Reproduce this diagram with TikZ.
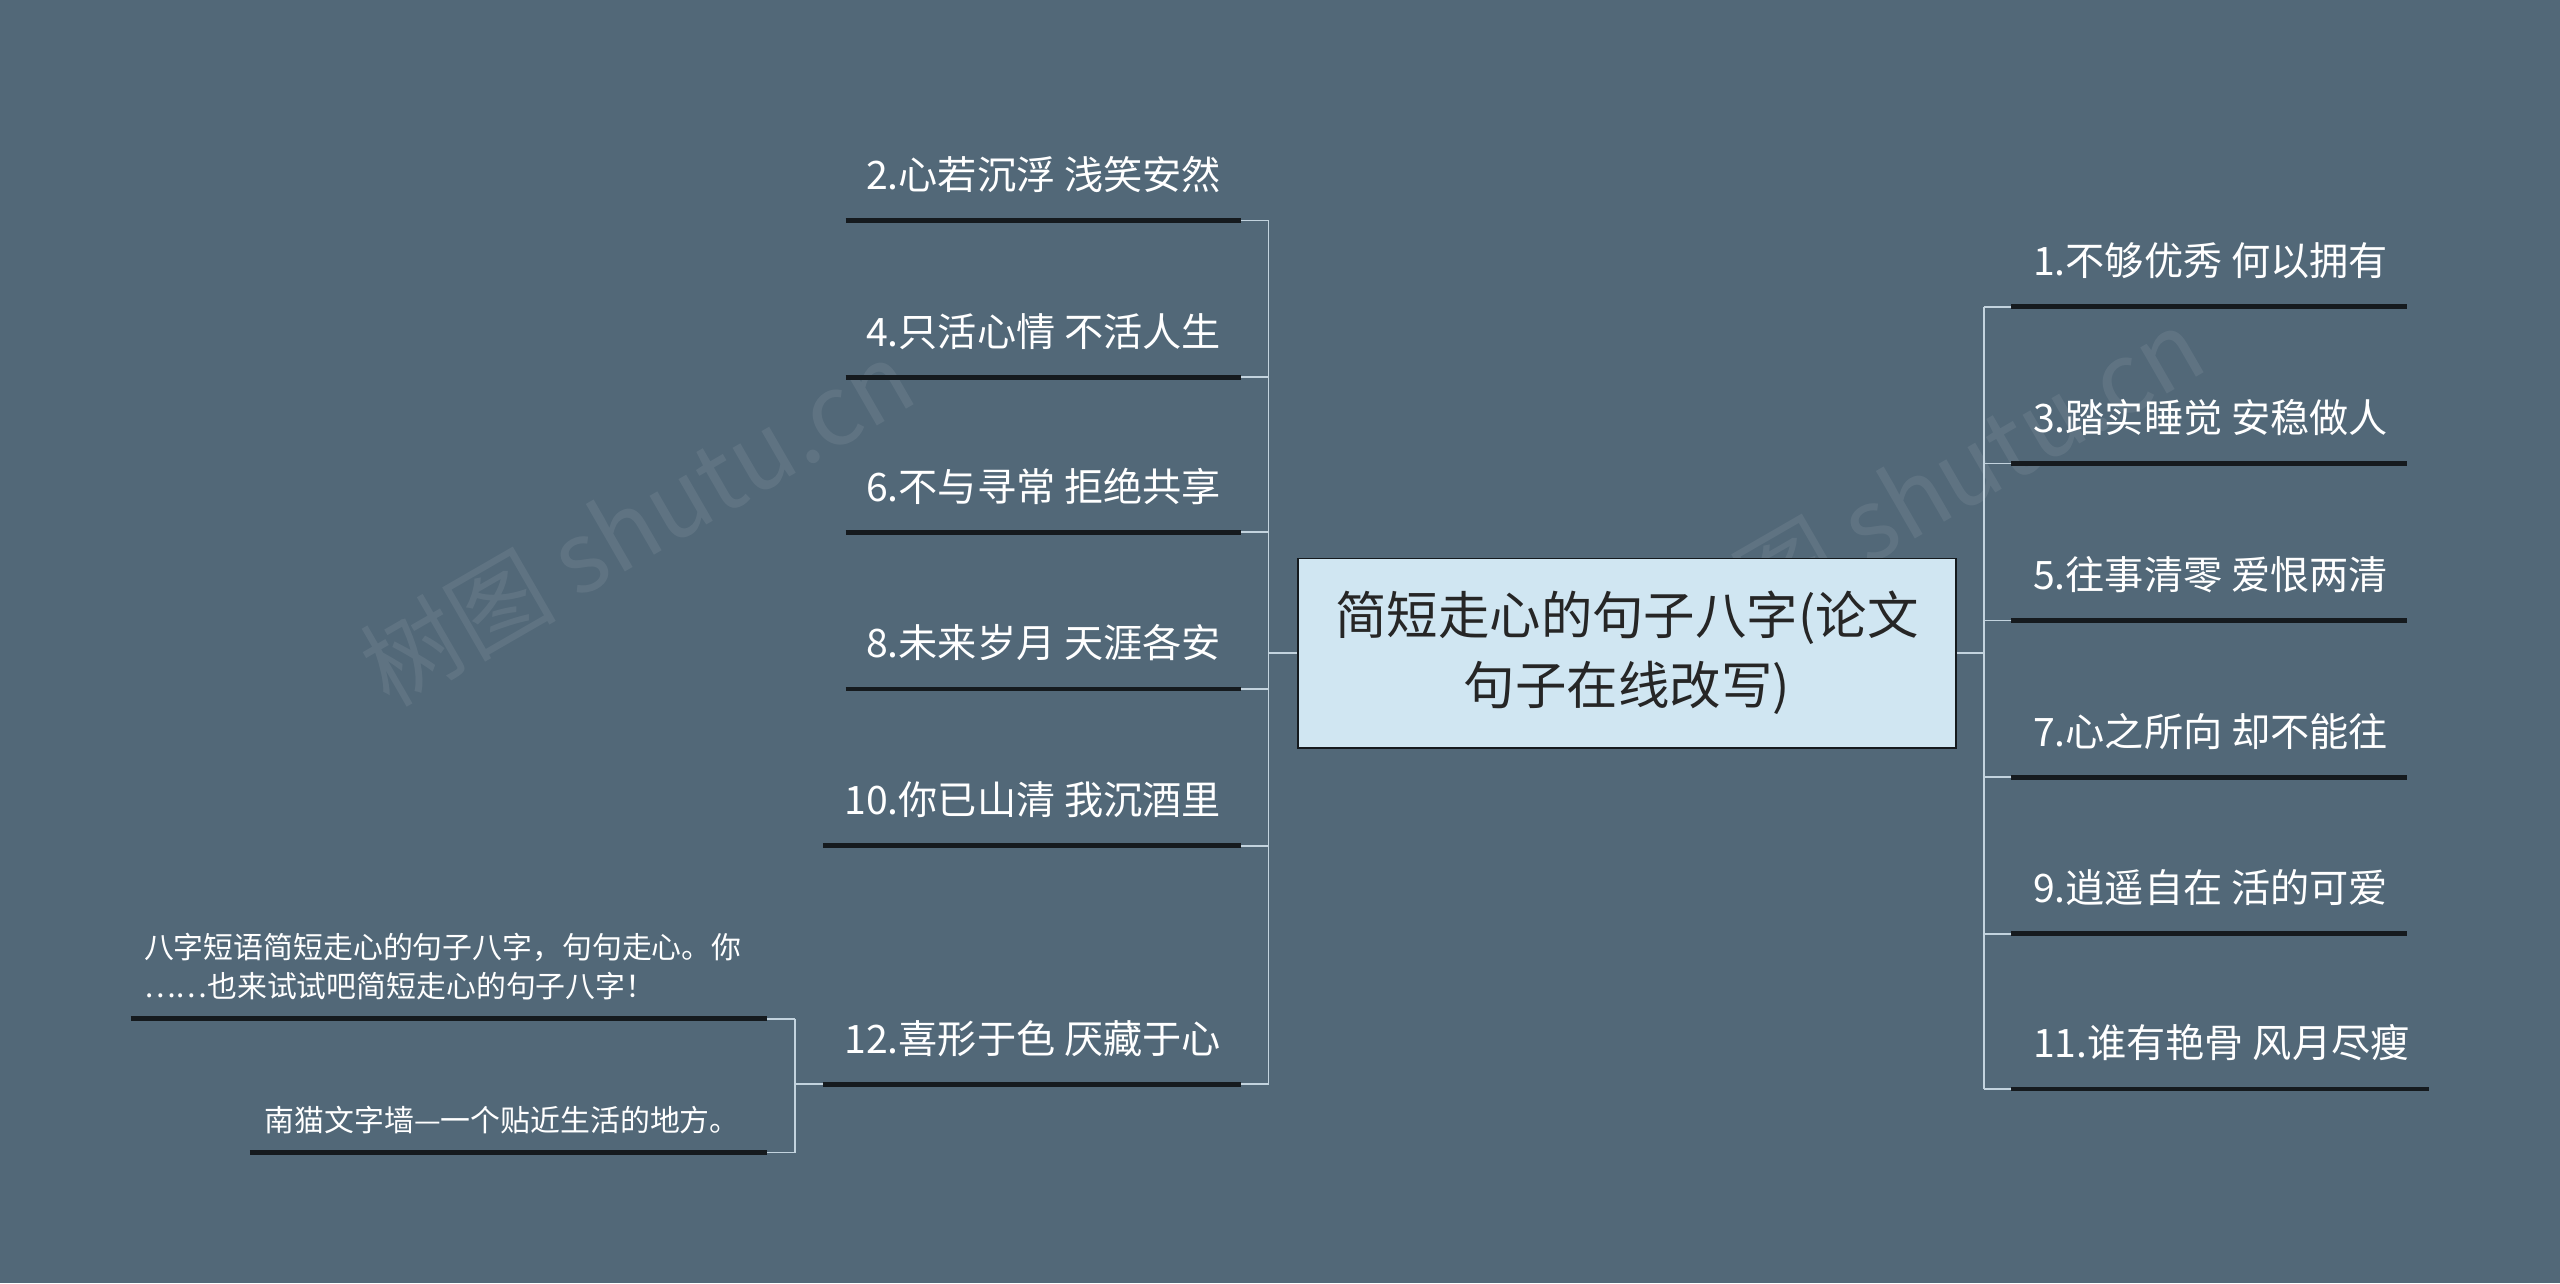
\documentclass[tikz,border=0pt]{standalone}
\usepackage{fontspec}
\setmainfont{Noto Sans CJK SC}
\definecolor{bg}{HTML}{526878}
\definecolor{ln}{HTML}{C3D3DE}
\definecolor{ul}{HTML}{151a1e}
\definecolor{cbox}{HTML}{D0E6F2}
\begin{document}
\begin{tikzpicture}[x=1pt,y=-1pt,
 item/.style={text=white,font=\fontsize{24}{28}\selectfont,inner sep=0pt},
 sub/.style={text=white,font=\fontsize{18.3}{24}\selectfont,inner sep=0pt,align=left},
 uline/.style={ul,line width=3pt},
 conn/.style={ln,line width=1pt}]
\fill[bg] (0,0) rectangle (1568,786);
\useasboundingbox (0,0) rectangle (1568,786);
\node[rotate=30,text=white,opacity=0.08,font=\fontsize{60}{60}\selectfont] (wm1) at (390,320) {树图 shutu.cn};
\node[rotate=30,text=white,opacity=0.08,font=\fontsize{60}{60}\selectfont] (wm2) at (1180,300) {树图 shutu.cn};
\node[draw=ul,fill=cbox,line width=1pt,minimum width=403pt,minimum height=116pt,align=center,font=\fontsize{31.5}{43}\selectfont,text=black!85] (c) at (996.5,400) {简短走心的句子八字(论文\\句子在线改写)};
% left
\foreach \n/\t/\y/\xl in {l2/2.心若沉浮 浅笑安然/135/518, l4/4.只活心情 不活人生/231/518, l6/6.不与寻常 拒绝共享/326/518, l8/8.未来岁月 天涯各安/422/518, l10/10.你已山清 我沉酒里/518/504, l12/12.喜形于色 厌藏于心/664/504}{
 \coordinate (\n a) at (\xl,\y); \coordinate (\n b) at (760,\y);
 \node[item,anchor=base east] (\n) at (748,\y-19) {\t};
 \draw[uline] (\n a) -- (\n b);
 \draw[conn] (\n b) -- (777,\y);
}
\coordinate (lj) at (777,400);
\draw[conn] (777,135) -- (777,664);
\draw[conn] (c.west) -- (lj);
% right
\foreach \n/\t/\y/\xr in {r1/1.不够优秀 何以拥有/188/1474, r3/3.踏实睡觉 安稳做人/284/1474, r5/5.往事清零 爱恨两清/380/1474, r7/7.心之所向 却不能往/476/1474, r9/9.逍遥自在 活的可爱/572/1474, r11/11.谁有艳骨 风月尽瘦/667/1488}{
 \coordinate (\n a) at (1232,\y); \coordinate (\n b) at (\xr,\y);
 \node[item,anchor=base west] (\n) at (1245,\y-19) {\t};
 \draw[uline] (\n a) -- (\n b);
 \draw[conn] (\n a) -- (1215,\y);
}
\coordinate (rj) at (1215,400);
\draw[conn] (1215,188) -- (1215,667);
\draw[conn] (c.east) -- (rj);
% sub
\coordinate (sj) at (487,664);
\draw[conn] (l12a) -- (sj);
\draw[conn] (487,624) -- (487,706);
\draw[conn] (470,624) -- (487,624);
\draw[conn] (470,706) -- (487,706);
\node[sub,anchor=base west] (s1) at (88,611) {八字短语简短走心的句子八字，句句走心。你\\……也来试试吧简短走心的句子八字！};
\draw[uline] (80,624) -- (470,624);
\node[sub,anchor=base west] (s2) at (162,693) {南猫文字墙—一个贴近生活的地方。};
\draw[uline] (153,706) -- (470,706);
\end{tikzpicture}
\end{document}
